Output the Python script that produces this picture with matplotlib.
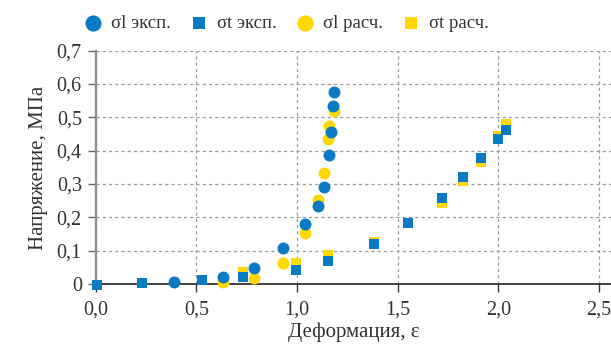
import matplotlib
matplotlib.use("Agg")
import matplotlib.pyplot as plt
from matplotlib.ticker import FuncFormatter

# σl experiment (circles) and model, σt experiment (squares) and model
sl_exp_x = [0.391, 0.632, 0.788, 0.933, 1.041, 1.102, 1.132, 1.157, 1.169, 1.177, 1.182]
sl_exp_y = [0.007, 0.020, 0.047, 0.107, 0.180, 0.235, 0.290, 0.387, 0.457, 0.534, 0.575]

st_exp_x = [0.005, 0.229, 0.527, 0.734, 0.995, 1.154, 1.385, 1.552, 1.718, 1.826, 1.912, 2.001, 2.036]
st_exp_y = [-0.003, 0.002, 0.012, 0.020, 0.042, 0.070, 0.119, 0.184, 0.259, 0.322, 0.379, 0.436, 0.463]

sl_calc_x = [0.632, 0.788, 0.933, 1.041, 1.102, 1.132, 1.154, 1.157, 1.182]
sl_calc_y = [0.007, 0.017, 0.064, 0.152, 0.252, 0.334, 0.434, 0.475, 0.519]

st_calc_x = [0.734, 0.995, 1.154, 1.385, 1.552, 1.718, 1.826, 1.912, 2.001, 2.036]
st_calc_y = [0.037, 0.064, 0.087, 0.127, 0.184, 0.244, 0.310, 0.367, 0.444, 0.480]

x_ticks = [0.0, 0.5, 1.0, 1.5, 2.0, 2.5]
y_ticks = [0.0, 0.1, 0.2, 0.3, 0.4, 0.5, 0.6, 0.7]

BLUE = "#0a7ac4"
YELLOW = "#ffd800"

plt.rcParams["font.family"] = ["Liberation Serif", "DejaVu Serif"]

fig = plt.figure(figsize=(6.11, 3.52), dpi=100)
ax = fig.add_axes([0.1566, 0.193, 0.8434, 0.663])

# model first so the measured points sit on top
kw = dict(lw=0, clip_on=False)
h_slc = ax.scatter(sl_calc_x, sl_calc_y, s=74, marker="o", color=YELLOW, zorder=3, **kw)
h_stc = ax.scatter(st_calc_x, st_calc_y, s=46, marker="s", color=YELLOW, zorder=3, **kw)
h_sle = ax.scatter(sl_exp_x, sl_exp_y, s=74, marker="o", color=BLUE, zorder=4, **kw)
h_ste = ax.scatter(st_exp_x, st_exp_y, s=46, marker="s", color=BLUE, zorder=4, **kw)

ax.set_xlim(0, 2.56)
ax.set_ylim(0, 0.7)
ax.set_xticks(x_ticks)
ax.set_yticks(y_ticks)
ax.xaxis.set_major_formatter(FuncFormatter(lambda v, p: f"{v:.1f}".replace(".", ",")))
ax.yaxis.set_major_formatter(
    FuncFormatter(lambda v, p: "0" if abs(v) < 1e-9 else f"{v:.1f}".replace(".", ",")))

ax.grid(True, color="#9a9a9a", lw=0.9, ls=(0, (2.5, 2.5)))
ax.set_axisbelow(True)
for side in ("top", "right"):
    ax.spines[side].set_visible(False)
ax.spines["left"].set_color("#8c8c8c")
ax.spines["left"].set_linewidth(1.6)
ax.spines["bottom"].set_color("#333333")
ax.spines["bottom"].set_linewidth(1.3)
ax.spines["bottom"].set_zorder(2.5)
ax.tick_params(axis="both", direction="out", length=6, width=1.0, colors="#333333",
               labelsize=14.5, labelcolor="#333333")
ax.tick_params(axis="y", pad=4, color="#666666")
ax.tick_params(axis="x", pad=6)

ax.set_xlabel("Деформация, ε", fontsize=15, color="#333333", labelpad=2)
ax.set_ylabel("Напряжение, МПа", fontsize=15, color="#333333", labelpad=6)

fig.legend([h_sle, h_ste, h_slc, h_stc],
           ["σl эксп.", "σt эксп.", "σl расч.", "σt расч."],
           loc="upper left", bbox_to_anchor=(0.11, 1.005), ncol=4, frameon=False,
           fontsize=13.5, handlelength=1.0, handletextpad=0.45, columnspacing=1.0,
           markerscale=1.35, labelcolor="#333333")

fig.savefig("out.png", dpi=100)
